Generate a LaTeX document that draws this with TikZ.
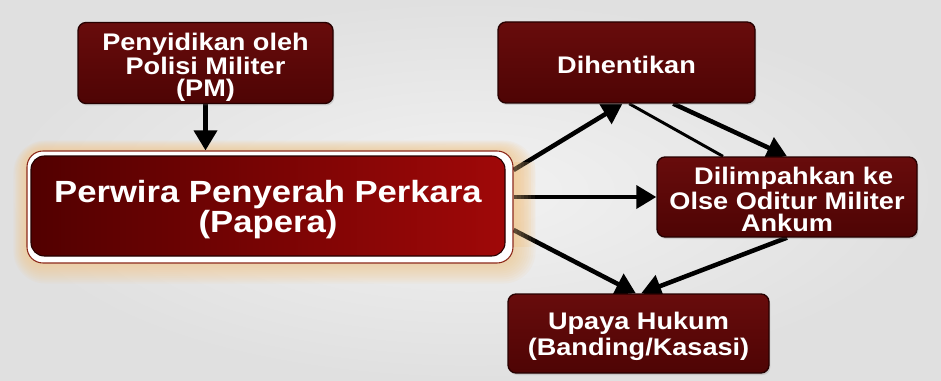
\documentclass[tikz,border=0pt]{standalone}
\usepackage{fontspec}
\newfontfamily\bx{Liberation Sans}[FakeStretch=1.13]
\usetikzlibrary{arrows.meta,shadows}
\definecolor{bgIn}{RGB}{242,242,242}
\definecolor{bgOut}{RGB}{224,224,224}
\definecolor{boxT}{RGB}{104,12,12}
\definecolor{boxB}{RGB}{78,4,4}
\definecolor{boxLine}{RGB}{38,0,0}
\definecolor{papL}{RGB}{82,0,0}
\definecolor{papR}{RGB}{160,8,8}
\definecolor{glowc}{RGB}{246,200,140}
\definecolor{ringLine}{RGB}{140,40,25}
\pgfdeclarelayer{back}
\pgfdeclarelayer{arrows}
\pgfdeclarelayer{glowl}
\pgfsetlayers{back,glowl,arrows,main}
\tikzset{
  darkbox/.style={rounded corners=6pt, draw=boxLine, line width=1pt,
    top color=boxT, bottom color=boxB, text=white, align=center, inner sep=0pt,
    font={\bx\bfseries\fontsize{18pt}{17pt}\selectfont},
    drop shadow={opacity=0.25, shadow xshift=1pt, shadow yshift=-1.5pt}},
  ringbox/.style={rounded corners=12pt, draw=ringLine, line width=0.8pt, fill=white, inner sep=0pt},
  papbox/.style={rounded corners=10pt, draw=boxLine, line width=0.8pt,
    left color=papL, right color=papR, text=white, align=center, inner sep=0pt,
    font={\bx\bfseries\fontsize{23pt}{19pt}\selectfont}},
  arr/.style={line width=3.4pt, -{Triangle[length=15pt,width=17pt]}},
  thinline/.style={line width=2.2pt}
}
\begin{document}
\begin{tikzpicture}[x=0.75pt,y=-0.75pt]
\useasboundingbox (0,0) rectangle (941,381);
\begin{pgfonlayer}{back}
\shade[inner color=bgIn, outer color=bgOut] (0,0) rectangle (941,381);
\end{pgfonlayer}

% boxes
\node[darkbox, minimum width=191.25pt, minimum height=60.75pt,
  font={\bx\bfseries\fontsize{18pt}{18pt}\selectfont}] (pm) at (205.5,63)
  {\rule{0pt}{20pt}Penyidikan oleh\\Polisi Militer\\[-1.5pt](PM)};
\node[darkbox, minimum width=192.75pt, minimum height=60.75pt] (dih) at (626.5,62.5)
  {\rule{0pt}{16pt}Dihentikan};
\node[darkbox, minimum width=195pt, minimum height=60pt,
  font={\bx\bfseries\fontsize{18pt}{19pt}\selectfont}] (dlp) at (787,197)
  {\rule{0pt}{17pt}\hspace*{10pt}Dilimpahkan ke\\Olse Oditur Militer\\[-2.5pt]Ankum};
\node[darkbox, minimum width=195.75pt, minimum height=59.25pt,
  font={\bx\bfseries\fontsize{18pt}{19.5pt}\selectfont}] (uh) at (638.5,333.5)
  {\rule{0pt}{17pt}Upaya Hukum\\(Banding/Kasasi)};
\node[ringbox, minimum width=364.5pt, minimum height=84pt] (ring) at (270,207) {};
\node[papbox, minimum width=355.5pt, minimum height=75pt] (pap) at (268,206)
  {\rule{0pt}{22pt}Perwira Penyerah Perkara\\(Papera)};

% glow round the Papera box
\begin{pgfonlayer}{glowl}
\foreach \i in {1,...,10}{
  \fill[glowc, opacity=0.09, rounded corners={12pt+\i*1.2pt}]
    ([shift={(-\i*1.3,-\i*1.0)}]ring.north west) rectangle ([shift={(\i*2.2,\i*2.0)}]ring.south east);
}
\end{pgfonlayer}

% connectors
\begin{pgfonlayer}{arrows}
\draw[arr] (pm.south) -- (pm.south |- ring.north);
\draw[arr] ([yshift=27.75pt]ring.east) -- ([xshift=-3pt]dih.south);
\draw[arr] ([yshift=7.5pt]ring.east) -- (dlp.west);
\draw[arr] ([yshift=-17.25pt]ring.east) -- ([xshift=-2pt]uh.north);
\draw[thinline] ([xshift=2pt]dih.south) -- ([xshift=-48pt]dlp.north);
\draw[arr] ([xshift=35pt]dih.south) -- (dlp.north);
\draw[arr] (dlp.south) -- ([xshift=2pt]uh.north);
\end{pgfonlayer}
\begin{pgfonlayer}{arrows}
\foreach \i in {1,...,6}{
  \fill[glowc, opacity=0.08]
    ([shift={(0,-45)}]ring.east) rectangle ([shift={(\i*3.5,40)}]ring.east);
}
\end{pgfonlayer}
\end{tikzpicture}
\end{document}
